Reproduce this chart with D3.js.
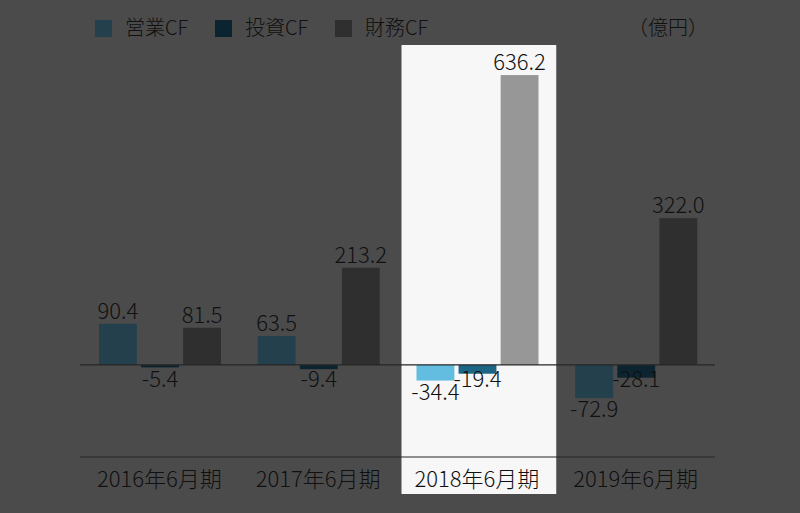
<!DOCTYPE html>
<html>
<head>
<meta charset="utf-8">
<script src="https://d3js.org/d3.v7.min.js"></script>
<style>
  body { margin: 0; background: #4b4b4b; }
  text { font-family: "Noto Sans CJK JP", "Noto Sans", sans-serif; fill: #101010; font-weight: 300; }
</style>
</head>
<body>
<div id="chart"></div>
<script>
// data
var categories = ["2016年6月期", "2017年6月期", "2018年6月期", "2019年6月期"];
var seriesNames = ["営業CF", "投資CF", "財務CF"];
var operatingCF = [90.4, 63.5, -34.4, -72.9];
var investingCF = [-5.4, -9.4, -19.4, -28.1];
var financingCF = [81.5, 213.2, 636.2, 322.0];
var unitLabel = "（億円）";
var highlighted = "2018年6月期";

var width = 800, height = 513;

// colours: dimmed (outside highlight) and bright (inside)
var dimColors = ["#23404c", "#0c2330", "#2f2f2f"];
var brightColors = ["#62bde0", "#1d6585", "#979797"];

var svg = d3.select("#chart").append("svg")
    .attr("width", width)
    .attr("height", height);

svg.append("rect")
    .attr("width", width).attr("height", height)
    .attr("fill", "#4b4b4b");

var x = d3.scaleBand()
    .domain(categories)
    .range([80, 715])
    .padding(0);

var xSub = d3.scaleBand()
    .domain(seriesNames)
    .range([19, 141])
    .paddingInner(0.1);

var y = d3.scaleLinear()
    .domain([-200, 700])
    .range([456, 46]);

var rows = [];
categories.forEach(function(c, i) {
    rows.push({cat: c, s: 0, v: operatingCF[i]});
    rows.push({cat: c, s: 1, v: investingCF[i]});
    rows.push({cat: c, s: 2, v: financingCF[i]});
});

// highlight column
svg.append("rect")
    .attr("x", x(highlighted) + 4)
    .attr("y", y(700) - 1)
    .attr("width", x.bandwidth() - 4)
    .attr("height", y(-200) - y(700) + 39)
    .attr("fill", "#f7f7f7");

// bars
svg.selectAll("rect.bar")
    .data(rows)
    .enter()
    .append("rect")
        .attr("class", "bar")
        .attr("x", function(d) { return x(d.cat) + xSub(seriesNames[d.s]); })
        .attr("width", xSub.bandwidth())
        .attr("y", function(d) { return y(Math.max(0, d.v)); })
        .attr("height", function(d) { return Math.abs(y(d.v) - y(0)); })
        .attr("fill", function(d) {
            return d.cat == highlighted ? brightColors[d.s] : dimColors[d.s];
        });

// zero line and bottom line
svg.append("line")
    .attr("x1", x.range()[0]).attr("x2", x.range()[1])
    .attr("y1", y(0)).attr("y2", y(0))
    .attr("stroke", "#262626").attr("stroke-width", 1.2);
svg.append("line")
    .attr("x1", x.range()[0]).attr("x2", x.range()[1])
    .attr("y1", y(-200) + 1).attr("y2", y(-200) + 1)
    .attr("stroke", "#262626").attr("stroke-width", 1.2);

// value labels
svg.selectAll("text.val")
    .data(rows)
    .enter()
    .append("text")
        .attr("class", "val")
        .attr("text-anchor", "middle")
        .attr("font-size", "22px")
        .attr("x", function(d) { return x(d.cat) + xSub(seriesNames[d.s]) + xSub.bandwidth() / 2; })
        .attr("y", function(d) {
            if (d.v >= 0) return y(d.v) - 5;
            if (d.s == 1) return y(0) + 22;
            return y(d.v) + 19;
        })
        .text(function(d) { return d.v.toFixed(1); });

// category labels
svg.selectAll("text.cat")
    .data(categories)
    .enter()
    .append("text")
        .attr("class", "cat")
        .attr("text-anchor", "middle")
        .attr("font-size", "22px")
        .attr("x", function(d) { return x(d) + x.bandwidth() / 2; })
        .attr("y", 487)
        .text(function(d) { return d; });

// legend
var legend = svg.selectAll("g.leg")
    .data(seriesNames)
    .enter()
    .append("g")
        .attr("class", "leg")
        .attr("transform", function(d, i) { return "translate(" + (95 + i * 120) + ",20)"; });
legend.append("rect")
    .attr("width", 17).attr("height", 17)
    .attr("fill", function(d, i) { return dimColors[i]; });
legend.append("text")
    .attr("x", 30).attr("y", 15)
    .attr("font-size", "20px")
    .text(function(d) { return d; });

svg.append("text")
    .attr("x", 708).attr("y", 35)
    .attr("text-anchor", "end")
    .attr("font-size", "20px")
    .text(unitLabel);
</script>
</body>
</html>
